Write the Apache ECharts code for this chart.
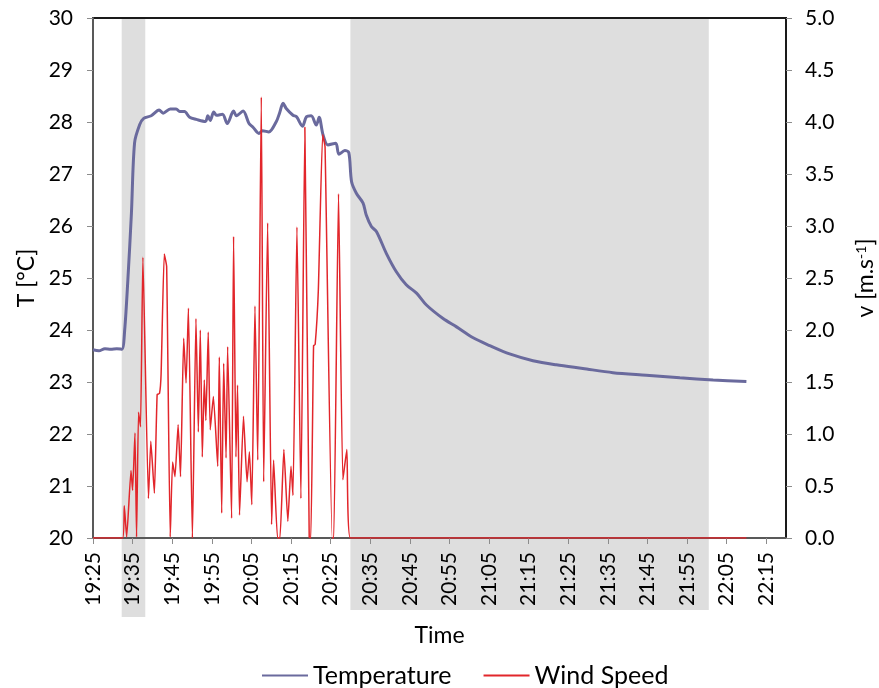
<!DOCTYPE html>
<html>
<head>
<meta charset="utf-8">
<title>Temperature and wind speed</title>
<script src="https://cdn.jsdelivr.net/npm/echarts@6/dist/echarts.min.js"></script>
<style>
  html, body { margin: 0; padding: 0; background: #fff; }
  #chart { width: 879px; height: 688px; }
</style>
</head>
<body>
<div id="chart"></div>
<script>
// Time is measured in minutes after 19:25.
const START_CLOCK = 19 * 60 + 25;

// Air temperature [°C]
const tempMinutes = [0, 1.5, 3, 4.5, 6, 7.3, 8.0, 8.8, 9.7, 10.5, 11.8, 12.8, 14.7, 16.7, 17.7, 19.5, 21.0, 21.9, 23.1, 24.4,
  26.1, 28.4, 29.0, 29.6, 30.5, 31.2, 32.7, 33.9, 35.5, 36.2, 37.9, 39.4, 40.4, 41.9, 42.8, 44.4, 46.3, 47.1, 48.0, 48.8,
  50.5, 51.4, 52.9, 53.9, 55.1, 56.4, 57.1, 58.1, 59.3, 61.3, 62.1, 63.6, 64.6, 65.3, 66.5, 68.2, 69.0, 70.3, 71.6, 74.1,
  76.6, 79.1, 81.7, 84.2, 88.4, 91.8, 96.0, 100.2, 105.2, 111.1, 117.0, 123.7, 131.3, 139.7, 148.2, 156.6, 165.0];
const tempValues = [23.62, 23.60, 23.64, 23.63, 23.64, 23.63, 24.0, 24.96, 26.24, 27.6, 27.95, 28.07, 28.12, 28.23, 28.17, 28.25, 28.25, 28.2, 28.2, 28.09,
  28.05, 28.01, 28.12, 28.03, 28.19, 28.13, 28.15, 27.97, 28.21, 28.12, 28.21, 27.97, 27.9, 27.78, 27.83, 27.81, 28.01, 28.17, 28.36, 28.26,
  28.13, 28.1, 27.92, 28.1, 28.12, 27.94, 28.09, 27.75, 27.56, 27.59, 27.38, 27.45, 27.41, 26.85, 26.63, 26.44, 26.21, 25.99, 25.89, 25.47,
  25.12, 24.87, 24.71, 24.48, 24.22, 24.06, 23.85, 23.70, 23.54, 23.41, 23.33, 23.26, 23.18, 23.13, 23.08, 23.04, 23.01];

// Wind speed [m/s]
const windMinutes = [0, 7.5, 7.9, 8.5, 9.6, 10.0, 10.6, 11.0, 11.5, 12.0, 12.6, 14.0, 14.6, 15.5, 16.2, 16.8, 17.2, 18.0, 18.6, 19.5,
  20.1, 20.7, 21.5, 22.1, 22.9, 23.5, 24.1, 25.1, 26.0, 26.6, 27.1, 27.6, 28.1, 28.5, 29.1, 29.6, 30.4, 31.5, 31.9, 32.5,
  33.0, 33.6, 34.0, 35.0, 35.5, 36.1, 36.5, 37.0, 38.0, 38.9, 39.5, 40.1, 40.9, 41.6, 42.5, 43.1, 44.1, 45.1, 45.6, 46.6,
  47.2, 48.2, 49.2, 50.0, 50.5, 51.5, 52.5, 53.5, 54.6, 55.0, 55.7, 56.1, 56.9, 58.0, 58.6, 60.4, 60.8, 62.0, 63.1, 64.1,
  65.0, 165.0];
const windValues = [0, 0, 0.31, 0.01, 0.65, 0.46, 1.01, 0.01, 1.21, 1.07, 2.70, 0.38, 0.93, 0.43, 1.38, 1.39, 1.58, 2.73, 2.61, 0.01,
  0.73, 0.59, 1.09, 0.59, 1.92, 1.49, 2.21, 0, 2.11, 1.02, 2.0, 0.78, 1.52, 1.13, 1.98, 1.04, 1.36, 0.69, 1.74, 0.24,
  1.68, 0.77, 1.84, 0.19, 2.90, 0.78, 1.47, 0.22, 1.17, 0.54, 0.83, 0.32, 2.23, 0.75, 4.24, 0.54, 3.03, 0.13, 0.75, 0,
  0, 0.85, 0.16, 0.69, 0.41, 2.99, 0.38, 3.95, 0.01, 0, 1.85, 1.86, 2.38, 3.88, 3.76, 0, 0, 3.31, 0.56, 0.85,
  0, 0];

// Shaded periods (minutes after 19:25)
const bandStarts = [7.25, 65];
const bandEnds = [13.2, 155.5];

// Axis ranges
const timeMin = 0, timeMax = 175, timeStep = 10;
const tempMin = 20, tempMax = 30, tempStep = 1;
const windMin = 0, windMax = 5, windStep = 0.5;

// How far each shaded period reaches below the plot (px)
const BAND_DROP = [79, 72];

const FONT = 'Lato, "Liberation Sans", sans-serif';

function clockLabel(m) {
  const t = START_CLOCK + Math.round(m);
  const h = Math.floor(t / 60), mm = t % 60;
  return h + ':' + String(mm).padStart(2, '0');
}

const chart = echarts.init(document.getElementById('chart'), null, { renderer: 'canvas' });

const axisLineStyle = { color: '#595959', width: 2 };
const tickStyle = { color: '#8c8c8c', width: 1 };

chart.setOption({
  animation: false,
  backgroundColor: '#fff',
  textStyle: { fontFamily: FONT },
  grid: {
    left: 93, right: 93, top: 18, bottom: 150,
    outerBoundsMode: 'none',
    containLabel: false,
    show: true, borderColor: '#1a1a1a', borderWidth: 2, backgroundColor: 'transparent'
  },
  legend: {
    data: ['Temperature', 'Wind Speed'],
    top: 658,
    left: 256,
    itemWidth: 46,
    itemHeight: 14,
    itemGap: 31,
    itemStyle: { opacity: 0 },
    textStyle: { fontFamily: FONT, fontSize: 25, color: '#000' }
  },
  xAxis: {
    type: 'value',
    min: timeMin, max: timeMax, interval: timeStep,
    name: 'Time',
    nameLocation: 'middle',
    nameGap: 86,
    nameTextStyle: { fontFamily: FONT, fontSize: 23, color: '#000' },
    axisLine: { show: true, onZero: false, lineStyle: axisLineStyle },
    axisTick: { show: true, length: 6, lineStyle: tickStyle },
    axisLabel: {
      rotate: 90, margin: 14, fontSize: 21, color: '#000', fontFamily: FONT,
      showMaxLabel: false,
      formatter: v => (v >= timeMax ? '' : clockLabel(v))
    },
    splitLine: { show: false }
  },
  yAxis: [
    {
      type: 'value', position: 'left',
      min: tempMin, max: tempMax, interval: tempStep,
      name: 'T [°C]',
      nameLocation: 'middle', nameRotate: 90, nameGap: 52,
      nameTextStyle: { fontFamily: FONT, fontSize: 23, color: '#000' },
      axisLine: { show: true, lineStyle: axisLineStyle },
      axisTick: { show: true, length: 6, lineStyle: tickStyle },
      axisLabel: { margin: 20, fontSize: 21, color: '#000', fontFamily: FONT },
      splitLine: { show: false }
    },
    {
      type: 'value', position: 'right',
      min: windMin, max: windMax, interval: windStep,
      name: 'v [m.s{sup|-1}]',
      nameLocation: 'middle', nameRotate: 90, nameGap: 68,
      nameTextStyle: {
        fontFamily: FONT, fontSize: 23, color: '#000',
        rich: { sup: { fontFamily: FONT, fontSize: 14, color: '#000', verticalAlign: 'top', lineHeight: 23 } }
      },
      axisLine: { show: true, lineStyle: { color: '#1a1a1a', width: 2 } },
      axisTick: { show: true, length: 6, lineStyle: tickStyle },
      axisLabel: { margin: 19, fontSize: 21, color: '#000', fontFamily: FONT, formatter: v => v.toFixed(1) },
      splitLine: { show: false }
    }
  ],
  series: [
    {
      name: 'bands',
      type: 'custom',
      xAxisIndex: 0, yAxisIndex: 0,
      silent: true,
      clip: false,
      z: -1,
      encode: { x: [0, 1] },
      data: bandStarts.map((s, i) => [s, bandEnds[i]]),
      renderItem: function (params, api) {
        const cs = params.coordSys;
        const x0 = api.coord([api.value(0), tempMin])[0];
        const x1 = api.coord([api.value(1), tempMin])[0];
        return {
          type: 'rect',
          shape: { x: x0, y: cs.y, width: x1 - x0, height: cs.height + BAND_DROP[params.dataIndex] },
          style: { fill: '#dedede' }
        };
      }
    },
    {
      name: 'Temperature',
      type: 'line',
      yAxisIndex: 0,
      data: tempMinutes.map((m, i) => [m, tempValues[i]]),
      showSymbol: false,
      symbol: 'none',
      smooth: 0.3,
      lineStyle: { color: '#6a6a9d', width: 3 },
      itemStyle: { color: '#6a6a9d' },
      z: 3
    },
    {
      name: 'Wind Speed',
      type: 'line',
      yAxisIndex: 1,
      data: windMinutes.map((m, i) => [m, windValues[i]]),
      showSymbol: false,
      symbol: 'none',
      smooth: 0.15,
      lineStyle: { color: '#e2262b', width: 1.5 },
      itemStyle: { color: '#e2262b' },
      z: 4
    }
  ]
});
</script>
</body>
</html>
